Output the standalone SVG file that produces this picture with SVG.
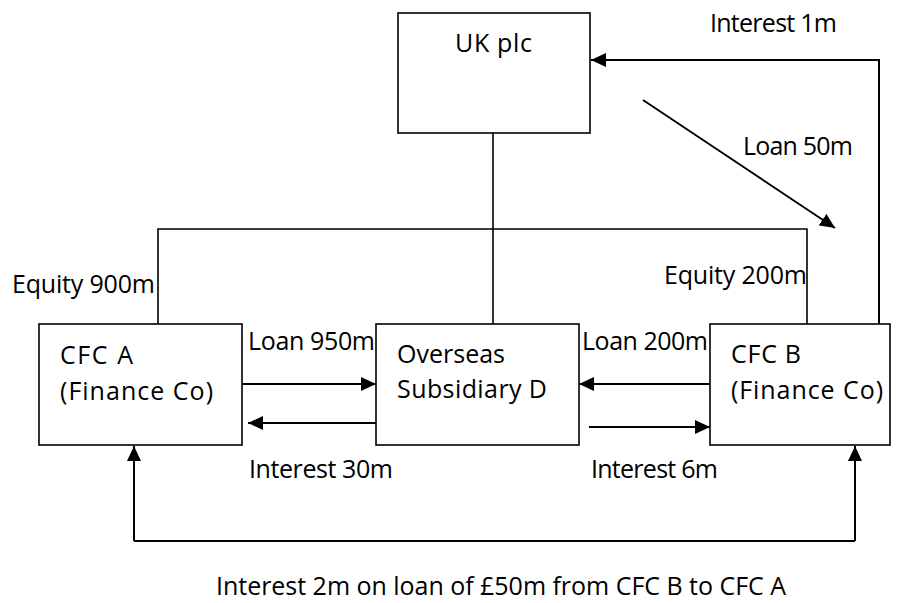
<svg xmlns="http://www.w3.org/2000/svg" width="902" height="603" viewBox="0 0 902 603">
<style>
.box{fill:#fff;stroke:#000;stroke-width:1.6}
.ln{fill:none;stroke:#000;stroke-width:1.6}
.ar{fill:none;stroke:#000;stroke-width:2;marker-end:url(#ah)}
text{font-family:"Open Sans","Noto Sans",sans-serif;font-size:25px;fill:#000}
</style>
<defs>
<marker id="ah" markerUnits="userSpaceOnUse" markerWidth="16" markerHeight="14" refX="15" refY="7" orient="auto">
<path d="M0,0 L15,7 L0,14 Z" fill="#000"/>
</marker>
</defs>
<rect width="902" height="603" fill="#fff"/>
<g id="connectors">
<path class="ln" d="M493,133 V324 M158,324 V229 H807 V324"/>
<path class="ar" d="M879,324 V60 H591"/>
<path class="ar" d="M643,100 L835,228"/>
<path class="ar" d="M242,384 H376"/>
<path class="ar" d="M376,423 H248"/>
<path class="ar" d="M710,384 H579"/>
<path class="ar" d="M589,427 H710"/>
<path class="ln" d="M134,541 H855" style="stroke-width:2"/>
<path class="ar" d="M134,541 V446"/>
<path class="ar" d="M855,541 V446"/>
</g>
<g id="uk-plc">
<rect class="box" x="398" y="13" width="192" height="120"/>
<text x="455" y="52" textLength="77">UK plc</text>
</g>
<g id="cfc-a">
<rect class="box" x="39" y="324" width="203" height="121"/>
<text x="60" y="364" textLength="73">CFC A</text>
<text x="60" y="400" textLength="153">(Finance Co)</text>
</g>
<g id="overseas-d">
<rect class="box" x="376" y="324" width="203" height="121"/>
<text x="397" y="363" textLength="108">Overseas</text>
<text x="397" y="398" textLength="150">Subsidiary D</text>
</g>
<g id="cfc-b">
<rect class="box" x="710" y="324" width="180" height="121"/>
<text x="731" y="363" textLength="70">CFC B</text>
<text x="731" y="399" textLength="152">(Finance Co)</text>
</g>
<g id="labels">
<text x="710" y="32" textLength="127">Interest 1m</text>
<text x="743" y="155" textLength="110">Loan 50m</text>
<text x="12" y="293" textLength="143">Equity 900m</text>
<text x="664" y="284" textLength="143">Equity 200m</text>
<text x="248" y="350" textLength="127">Loan 950m</text>
<text x="582" y="350" textLength="126">Loan 200m</text>
<text x="249" y="478" textLength="144">Interest 30m</text>
<text x="591" y="478" textLength="127">Interest 6m</text>
<text x="216" y="595" textLength="570">Interest 2m on loan of £50m from CFC B to CFC A</text>
</g>
</svg>
